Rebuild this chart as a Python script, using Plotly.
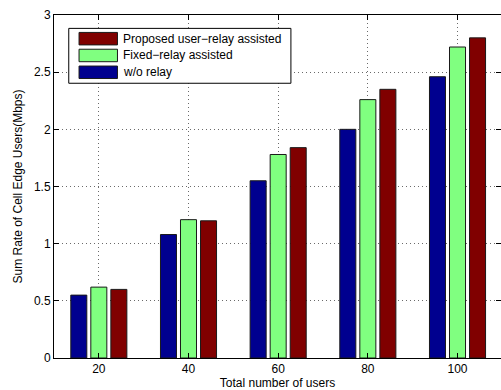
import plotly.graph_objects as go

# Total number of users (x categories)
users = [20, 40, 60, 80, 100]

# Sum rate of cell-edge users (Mbps) per scheme
wo_relay = [0.55, 1.08, 1.55, 2.00, 2.46]
fixed_relay = [0.62, 1.21, 1.78, 2.26, 2.72]
proposed = [0.60, 1.20, 1.84, 2.35, 2.80]

series_names = ["w/o relay", "Fixed\u2212relay assisted", "Proposed user\u2212relay assisted"]
series_colors = ["#00008F", "#80FF80", "#800000"]
y_ticks = [0, 0.5, 1, 1.5, 2, 2.5, 3]
y_tick_text = ["0", "0.5", "1", "1.5", "2", "2.5", "3"]

FONT = "Liberation Sans, Arial, sans-serif"
EDGE = "#1a1a1a"

fig = go.Figure()
for name, vals, col in zip(series_names, [wo_relay, fixed_relay, proposed], series_colors):
    fig.add_trace(go.Bar(
        x=users, y=vals, name=name, showlegend=False,
        marker=dict(color=col, line=dict(color=EDGE, width=1)),
    ))

# Boxed legend with wide colour swatches (top entry = last series)
legend_box = dict(x0=0.033, x1=0.530, y0=0.801, y1=0.961)
swatch_x = (0.056, 0.142)
row_centers = [0.931, 0.882, 0.833]
swatch_half = 0.0182
text_x = 0.150

shapes = [dict(type="rect", xref="paper", yref="paper", layer="above",
               line=dict(color="black", width=1), fillcolor="white", **legend_box)]
annotations = []
for yc, name, col in zip(row_centers, series_names[::-1], series_colors[::-1]):
    shapes.append(dict(type="rect", xref="paper", yref="paper", layer="above",
                       x0=swatch_x[0], x1=swatch_x[1],
                       y0=yc - swatch_half, y1=yc + swatch_half,
                       fillcolor=col, line=dict(color=EDGE, width=1)))
    annotations.append(dict(xref="paper", yref="paper", x=text_x, y=yc,
                            xanchor="left", yanchor="middle", showarrow=False,
                            text=name, font=dict(family=FONT, size=12, color="black")))

axis_common = dict(
    showline=True, linecolor="black", linewidth=1, mirror="allticks",
    ticks="inside", ticklen=5, tickcolor="black",
    showgrid=True, gridcolor="#6a6a6a", griddash="1px,3px", gridwidth=1,
    zeroline=False,
    tickfont=dict(family=FONT, size=12, color="black"),
    title_font=dict(family=FONT, size=12, color="black"),
)

fig.update_layout(
    width=501, height=390,
    margin=dict(l=54, r=0, t=15, b=32),
    paper_bgcolor="white", plot_bgcolor="white",
    barmode="group", bargap=0.33, bargroupgap=0.2,
    font=dict(family=FONT, size=12, color="black"),
    shapes=shapes, annotations=annotations,
    xaxis=dict(
        range=[10, 109.7], tickmode="array", tickvals=users,
        ticktext=[str(u) for u in users],
        title=dict(text="Total number of users", standoff=4),
        **axis_common,
    ),
    yaxis=dict(
        range=[0, 3], tickmode="array", tickvals=y_ticks, ticktext=y_tick_text,
        title=dict(text="Sum Rate of Cell Edge Users(Mbps)", standoff=8),
        **axis_common,
    ),
)

fig.write_html("out.html")
